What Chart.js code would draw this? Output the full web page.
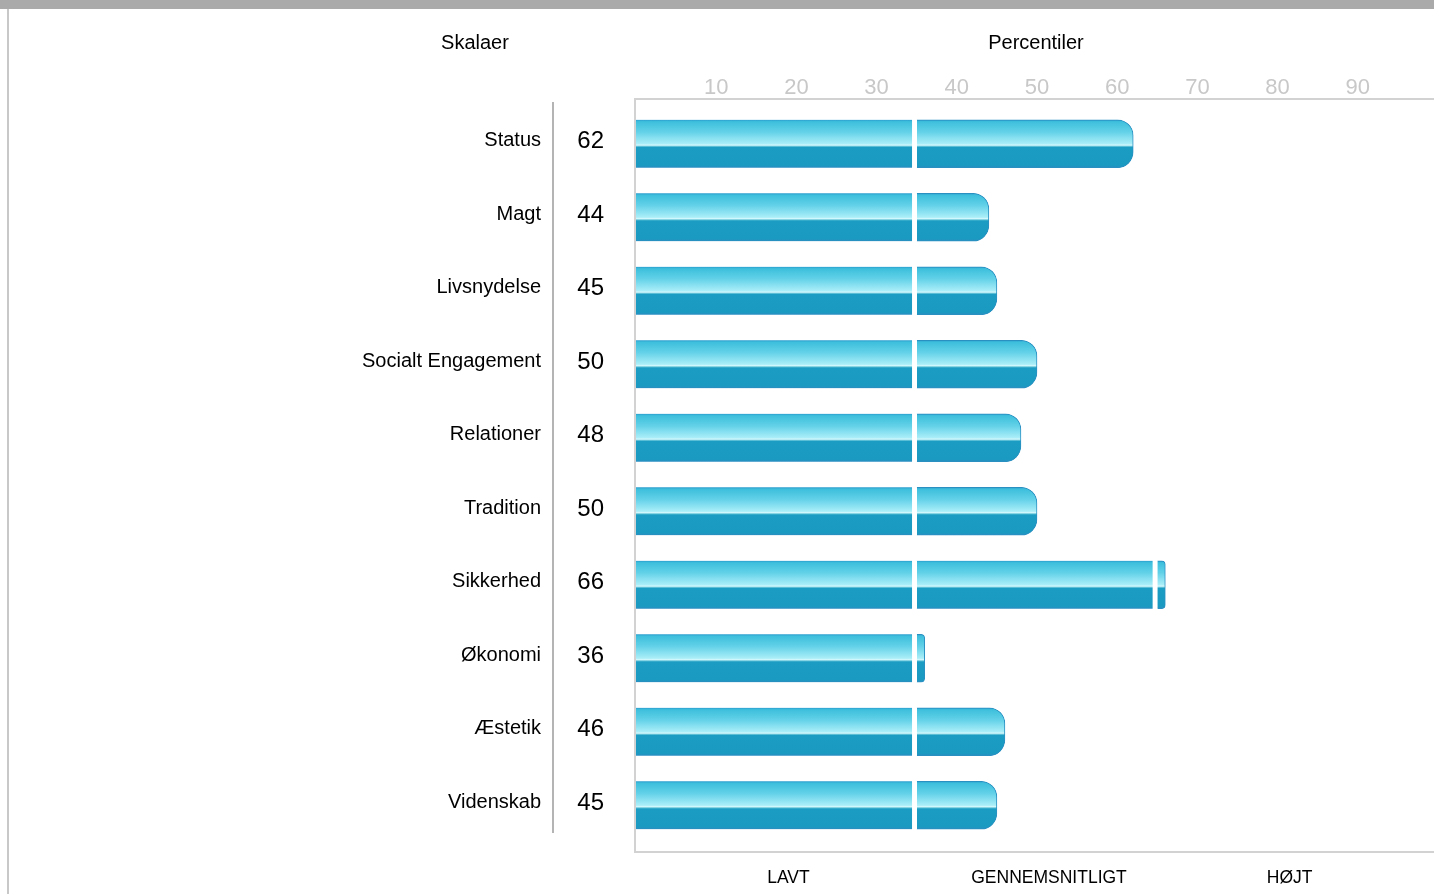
<!DOCTYPE html>
<html>
<head>
<meta charset="utf-8">
<title>Skalaer - Percentiler</title>
<script src="https://cdn.jsdelivr.net/npm/chart.js@4.4.0/dist/chart.umd.min.js"></script>
<style>
	html, body { margin: 0; padding: 0; width: 1434px; height: 894px; overflow: hidden; background: #fff;
		font-family: "Liberation Sans", Arial, sans-serif; }
	#wrap { position: absolute; left: 0; top: 0; width: 1444px; height: 894px; }
	#topbar { position: absolute; left: 0; top: 0; width: 1434px; height: 9px; background: #aaaaaa; }
	#leftline { position: absolute; left: 7px; top: 9px; width: 2px; height: 885px; background: #c8c8c8; }
	.head { position: absolute; top: 31px; width: 200px; margin-left: -100px; text-align: center;
		font-size: 20px; line-height: 22px; color: #000; }
</style>
</head>
<body>
<div id="wrap"><canvas id="myChart"></canvas></div>
<div id="topbar"></div>
<div id="leftline"></div>
<div class="head" style="left:475px">Skalaer</div>
<div class="head" style="left:1036px">Percentiler</div>
<script>
(function() {
	'use strict';

	var scaleNames = ['Status', 'Magt', 'Livsnydelse', 'Socialt Engagement', 'Relationer',
		'Tradition', 'Sikkerhed', 'Økonomi', 'Æstetik', 'Videnskab'];
	var percentiles = [62, 44, 45, 50, 48, 50, 66, 36, 46, 45];
	var zoneNames = ['LAVT', 'GENNEMSNITLIGT', 'HØJT'];
	var zoneTicks = [19, 51.5, 81.5];
	var zoneLimits = [35, 65];

	Chart.defaults.font.family = '"Liberation Sans", Arial, sans-serif';

	// which segment holds the end of the bar
	function isEnd(seg, i) {
		var v = percentiles[i];
		if (seg === 0) return v <= zoneLimits[0];
		if (seg === 1) return v <= zoneLimits[1];
		return true;
	}

	function barGradient(c) {
		var chart = c.chart;
		if (!chart.chartArea) return '#1a9bc1';
		var yc = chart.scales.y.getPixelForValue(c.dataIndex);
		var g = chart.ctx.createLinearGradient(0, yc - 24, 0, yc + 24);
		g.addColorStop(0, '#2a9ccd');
		g.addColorStop(0.04, '#3dbfdc');
		g.addColorStop(0.25, '#62d1e8');
		g.addColorStop(0.5, '#aaeef8');
		g.addColorStop(0.53, '#d6f9fd');
		g.addColorStop(0.555, '#62c3d8');
		g.addColorStop(0.575, '#1b9cc2');
		g.addColorStop(0.95, '#1a9ac0');
		g.addColorStop(1, '#2c8dc2');
		return g;
	}

	function segment(seg, data) {
		return {
			data: data,
			grouped: false,
			barThickness: 48,
			borderSkipped: false,
			backgroundColor: barGradient,
			borderColor: function(c) {
				return isEnd(seg, c.dataIndex) ? '#2a90c2' : '#ffffff';
			},
			borderWidth: function(c) {
				return isEnd(seg, c.dataIndex) ? {top: 1, right: 1, bottom: 1, left: 0}
					: {top: 0, right: 5, bottom: 0, left: 0};
			},
			borderRadius: function(c) {
				return isEnd(seg, c.dataIndex) ? {topLeft: 0, bottomLeft: 0, topRight: 16, bottomRight: 16} : 0;
			}
		};
	}

	var lowData = percentiles.map(function(v) { return [0, Math.min(v, zoneLimits[0])]; });
	var midData = percentiles.map(function(v) {
		return v > zoneLimits[0] ? [zoneLimits[0], Math.min(v, zoneLimits[1])] : null;
	});
	var highData = percentiles.map(function(v) {
		return v > zoneLimits[1] ? [zoneLimits[1], v] : null;
	});

	var framePlugin = {
		id: 'frame',
		beforeDatasetsDraw: function(chart) {
			var a = chart.chartArea, ctx = chart.ctx;
			ctx.save();
			ctx.lineWidth = 2;
			ctx.strokeStyle = '#d2d2d2';
			ctx.beginPath();
			ctx.moveTo(chart.width, a.top - 8);
			ctx.lineTo(a.left - 1, a.top - 8);
			ctx.lineTo(a.left - 1, a.bottom + 10);
			ctx.lineTo(chart.width, a.bottom + 10);
			ctx.stroke();
			// line between names and values
			var sep = chart.scales.y.right;
			ctx.strokeStyle = '#b4b4b4';
			ctx.beginPath();
			ctx.moveTo(sep, a.top - 5);
			ctx.lineTo(sep, a.bottom - 9);
			ctx.stroke();
			ctx.restore();
		}
	};

	var ctx = document.getElementById('myChart').getContext('2d');
	var myChart = new Chart(ctx, {
		type: 'bar',
		data: {
			labels: scaleNames,
			datasets: [segment(0, lowData), segment(1, midData), segment(2, highData)]
		},
		options: {
			animation: false,
			responsive: true,
			maintainAspectRatio: false,
			indexAxis: 'y',
			layout: { padding: { left: 0, right: 3, top: 0, bottom: 0 } },
			plugins: { legend: { display: false }, tooltip: { enabled: false } },
			scales: {
				x: {
					type: 'linear', position: 'bottom', min: 0, max: 100,
					grid: { display: false, drawTicks: false }, border: { display: false },
					afterBuildTicks: function(s) {
						s.ticks = zoneTicks.map(function(v) { return { value: v }; });
					},
					ticks: {
						autoSkip: false, maxRotation: 0, padding: 26, color: '#000', font: { size: 17.5 },
						callback: function(v, i) { return zoneNames[i]; }
					},
					afterFit: function(s) { s.height = 52; }
				},
				x2: {
					type: 'linear', position: 'top', min: 0, max: 100,
					grid: { display: false, drawTicks: false }, border: { display: false },
					ticks: {
						stepSize: 10, autoSkip: false, maxRotation: 0, padding: 6, color: '#c8c8c8', font: { size: 22 },
						callback: function(v) { return (v > 0 && v < 100) ? v : ''; }
					},
					afterFit: function(s) { s.height = 107; }
				},
				y: {
					type: 'category', position: 'left', weight: 1,
					grid: { display: false, drawTicks: false }, border: { display: false },
					ticks: { padding: 12, color: '#000', font: { size: 20 }, labelOffset: -3 },
					afterFit: function(s) { s.width = 553; }
				},
				y2: {
					type: 'category', position: 'left', weight: 0, offset: true,
					labels: percentiles.map(String),
					grid: { display: false, drawTicks: false }, border: { display: false },
					ticks: { padding: 32, color: '#000', font: { size: 24 }, labelOffset: -2 },
					afterFit: function(s) { s.width = 83; }
				}
			}
		},
		plugins: [framePlugin]
	});
})();
</script>
</body>
</html>
